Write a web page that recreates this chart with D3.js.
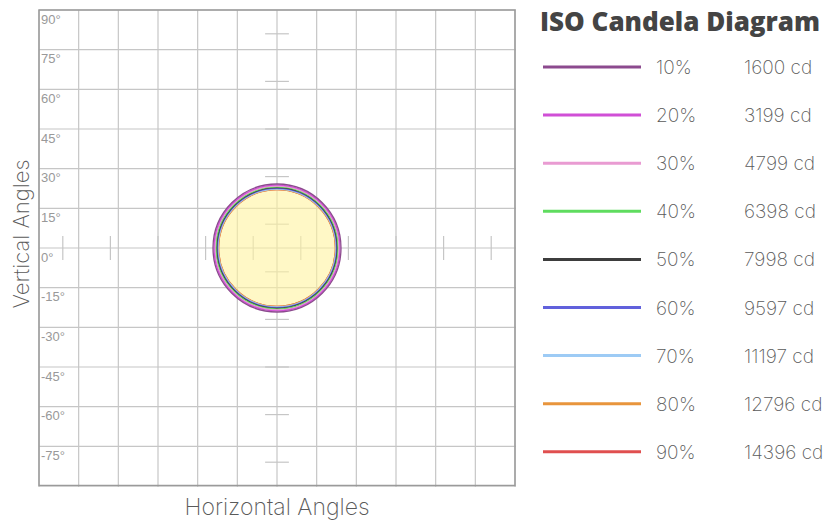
<!DOCTYPE html>
<html>
<head>
<meta charset="utf-8">
<script src="https://cdn.jsdelivr.net/npm/d3@7"></script>
<style>
  body { margin: 0; background: #fff; }
  svg { display: block; }
</style>
</head>
<body>
<svg id="chart" width="830" height="523"></svg>
<script>
// iso levels (percent of max), candela values, colours
var levels = [10, 20, 30, 40, 50, 60, 70, 80, 90];
var candela = [1600, 3199, 4799, 6398, 7998, 9597, 11197, 12796, 14396];
var colors = ["#8c4a8e", "#d04fd6", "#e99bd2", "#5fdc5f", "#3d3d3d", "#6161dc", "#9dcbf5", "#e8953c", "#e04f4f"];
// radius of each iso line in degrees
var radii = [24.2, 23.8, 23.45, 23.1, 22.8, 22.55, 22.3, 22.1, 22.1];

// axis ticks
var gridVals = d3.range(-90, 91, 15);
var labelVals = [90, 75, 60, 45, 30, 15, 0, -15, -30, -45, -60, -75];
var crossTicks = [-81, -63, -45, -27, -9, 9, 27, 45, 63, 81];

var thin = "Inter, Lato, sans-serif";

var svg = d3.select("#chart");

var x = d3.scaleLinear().domain([-90, 90]).range([39, 515]);
var y = d3.scaleLinear().domain([-90, 90]).range([486, 10]);

// grid
var grid = svg.append("g");
grid.selectAll("line.v").data(gridVals).enter().append("line")
  .attr("x1", function(d) { return x(d); }).attr("x2", function(d) { return x(d); })
  .attr("y1", y(90)).attr("y2", y(-90) + 1)
  .attr("stroke", "#c6c6c6").attr("stroke-width", 1.2);
grid.selectAll("line.h").data(gridVals).enter().append("line")
  .attr("y1", function(d) { return y(d); }).attr("y2", function(d) { return y(d); })
  .attr("x1", x(-90)).attr("x2", x(90) + 1)
  .attr("stroke", "#c6c6c6").attr("stroke-width", 1.2);

// small cross ticks along the centre axes
grid.selectAll("line.tx").data(crossTicks).enter().append("line")
  .attr("x1", function(d) { return x(d); }).attr("x2", function(d) { return x(d); })
  .attr("y1", y(4.5)).attr("y2", y(-4.5))
  .attr("stroke", "#c6c6c6").attr("stroke-width", 1.2);
grid.selectAll("line.ty").data(crossTicks).enter().append("line")
  .attr("y1", function(d) { return y(d); }).attr("y2", function(d) { return y(d); })
  .attr("x1", x(-4.5)).attr("x2", x(4.5))
  .attr("stroke", "#c6c6c6").attr("stroke-width", 1.2);

// border
svg.append("rect")
  .attr("x", x(-90)).attr("y", y(90))
  .attr("width", x(90) - x(-90)).attr("height", 475.5)
  .attr("fill", "none").attr("stroke", "#9a9a9a").attr("stroke-width", 1.5);

// vertical angle labels
svg.append("g").selectAll("text").data(labelVals).enter().append("text")
  .attr("x", x(-90) + 2)
  .attr("y", function(d) { return y(d) + 13.5; })
  .attr("font-family", "Liberation Sans, Arial, sans-serif")
  .attr("font-size", 13)
  .attr("fill", "#999")
  .text(function(d) { return d + "\u00b0"; });

// iso lines, inner ones first so the outer lines sit on top
var cx = x(0), cy = y(0);
var rpx = function(deg) { return x(deg) - x(0); };
svg.append("circle")
  .attr("cx", cx).attr("cy", cy).attr("r", rpx(radii[radii.length - 1]))
  .attr("fill", "#fff3a0").attr("fill-opacity", 0.6);
var rings = radii.map(function(r, i) { return {r: r, c: colors[i]}; }).reverse();
svg.append("g").selectAll("circle").data(rings).enter().append("circle")
  .attr("cx", cx).attr("cy", cy)
  .attr("r", function(d) { return rpx(d.r); })
  .attr("fill", "none")
  .attr("stroke", function(d) { return d.c; })
  .attr("stroke-width", 1.3);

// axis titles
svg.append("text")
  .attr("x", x(0)).attr("y", 515)
  .attr("text-anchor", "middle")
  .attr("font-family", thin).attr("font-weight", 200)
  .attr("font-size", 23).attr("fill", "#5a5a5a")
  .text("Horizontal Angles");
svg.append("text")
  .attr("transform", "translate(29,234) rotate(-90)")
  .attr("text-anchor", "middle")
  .attr("font-family", thin).attr("font-weight", 200)
  .attr("font-size", 22).attr("fill", "#5a5a5a")
  .text("Vertical Angles");

// legend
svg.append("text")
  .attr("x", 540).attr("y", 31)
  .attr("font-family", "Open Sans, sans-serif").attr("font-weight", 800)
  .attr("font-size", 26).attr("fill", "#444")
  .attr("textLength", 280).attr("lengthAdjust", "spacingAndGlyphs")
  .text("ISO Candela Diagram");

var leg = svg.append("g").selectAll("g").data(levels).enter().append("g")
  .attr("transform", function(d, i) { return "translate(0," + (67 + i * 48.1) + ")"; });
leg.append("line")
  .attr("x1", 543).attr("x2", 641).attr("y1", 0).attr("y2", 0)
  .attr("stroke", function(d, i) { return colors[i]; })
  .attr("stroke-width", 3);
leg.append("text")
  .attr("x", 656).attr("y", 7)
  .attr("font-family", thin).attr("font-weight", 200)
  .attr("font-size", 19).attr("fill", "#5a5a5a")
  .text(function(d) { return d + "%"; });
leg.append("text")
  .attr("x", 744).attr("y", 7)
  .attr("font-family", thin).attr("font-weight", 200)
  .attr("font-size", 19).attr("fill", "#5a5a5a")
  .text(function(d, i) { return candela[i] + " cd"; });
</script>
</body>
</html>
